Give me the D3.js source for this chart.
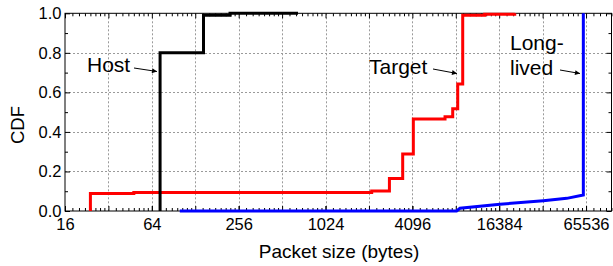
<!DOCTYPE html>
<html>
<head>
<meta charset="utf-8">
<script src="https://cdn.jsdelivr.net/npm/d3@7"></script>
<style>
  body { margin: 0; background: #fff; }
  text { font-family: "Liberation Sans", Arial, sans-serif; }
</style>
</head>
<body>
<svg id="chart" width="613" height="266"></svg>
<script>
// step CDFs (packet size in bytes, cumulative fraction)
var hostSize = [73, 73, 146, 223, 660];
var hostCdf = [0, 0.8, 0.99, 1.0, 1.0];

var targetSize = [24, 24, 48, 2140, 2840, 3510, 4160, 6900, 7800, 8450, 9150, 13000, 21000];
var targetCdf = [0, 0.088, 0.094, 0.101, 0.165, 0.288, 0.465, 0.477, 0.517, 0.642, 0.99, 0.995, 1.0];

var longSize = [100, 8300, 8760, 16590, 33130, 48150, 62770, 62770];
var longCdf = [0, 0, 0.014, 0.034, 0.052, 0.064, 0.081, 1.0];

var xLabelTicks = [16, 64, 256, 1024, 4096, 16384, 65536];
var xGridTicks = [32, 64, 128, 256, 512, 1024, 2048, 4096, 8192, 16384, 32768, 65536];
var yTicks = [0, 0.2, 0.4, 0.6, 0.8, 1.0];

// plot box (pixels)
var pL = 65, pR = 611.5, pT = 13.3, pB = 211;

var svg = d3.select("#chart");

var x = d3.scaleLog().base(2).domain([16, 98400]).range([pL, pR]);
var y = d3.scaleLinear().domain([0, 1]).range([pB, pT]);

// minor ticks: 7 per octave
var majorX = [];
var minorX = [];
for (var p = 4; p <= 16; p++) {
  var b = Math.pow(2, p);
  majorX.push(b);
  for (var k = 1; k < 8; k++) {
    var v = b * (1 + k / 8);
    if (v < 98400) minorX.push(v);
  }
}
var minorY = [0.1, 0.3, 0.5, 0.7, 0.9];

// grid
var grid = svg.append("g").attr("stroke", "#9a9a9a").attr("stroke-width", 1)
  .attr("stroke-dasharray", "2,2");
grid.selectAll(".gx").data(xGridTicks).enter().append("line")
  .attr("x1", d => Math.round(x(d)) + 0.5).attr("x2", d => Math.round(x(d)) + 0.5)
  .attr("y1", pT).attr("y2", pB);
grid.selectAll(".gy").data([0.2, 0.4, 0.6, 0.8]).enter().append("line")
  .attr("y1", d => Math.round(y(d)) + 0.5).attr("y2", d => Math.round(y(d)) + 0.5)
  .attr("x1", pL).attr("x2", pR);

// axes with inward ticks on all four sides
function axisSet(gen, trans, vals, size, labels) {
  var g = svg.append("g").attr("transform", trans)
    .call(gen.tickValues(vals).tickSize(size).tickPadding(labels ? 7 : 0)
      .tickFormat(labels ? labels : ""));
  g.select(".domain").remove();
  g.selectAll("line").attr("stroke", "#000");
  g.selectAll("text").attr("font-size", "16.5px").attr("fill", "#000")
    .style("font-family", "'Liberation Sans', Arial, sans-serif");
  return g;
}
axisSet(d3.axisBottom(x), "translate(0," + pB + ")", majorX, -5, null);
axisSet(d3.axisBottom(x), "translate(0," + pB + ")", minorX, -3, null);
axisSet(d3.axisBottom(x), "translate(0," + pB + ")", xLabelTicks, -5, d3.format("d"));
axisSet(d3.axisTop(x), "translate(0," + pT + ")", majorX, -5, null);
axisSet(d3.axisTop(x), "translate(0," + pT + ")", minorX, -3, null);
axisSet(d3.axisLeft(y), "translate(" + pL + ",0)", minorY, -3, null);
axisSet(d3.axisLeft(y), "translate(" + pL + ",0)", yTicks, -5, d3.format(".1f"))
  .selectAll("text").attr("x", -3.5);
axisSet(d3.axisRight(y), "translate(" + pR + ",0)", minorY, -3, null);
axisSet(d3.axisRight(y), "translate(" + pR + ",0)", yTicks, -5, null);

svg.append("rect").attr("x", pL).attr("y", pT)
  .attr("width", pR - pL).attr("height", pB - pT)
  .attr("fill", "none").attr("stroke", "#000").attr("stroke-width", 1);

// series
var stepLine = d3.line().x(d => x(d[0])).y(d => y(d[1])).curve(d3.curveStepAfter);
var plainLine = d3.line().x(d => x(d[0])).y(d => y(d[1]));

svg.append("path").datum(d3.zip(targetSize, targetCdf))
  .attr("d", stepLine).attr("fill", "none").attr("stroke", "#ff0000").attr("stroke-width", 3);
svg.append("path").datum(d3.zip(longSize, longCdf))
  .attr("d", plainLine).attr("fill", "none").attr("stroke", "#0000ff").attr("stroke-width", 3);
svg.append("path").datum(d3.zip(hostSize, hostCdf))
  .attr("d", stepLine).attr("fill", "none").attr("stroke", "#000").attr("stroke-width", 3);

// axis titles
svg.append("text").attr("x", 339).attr("y", 258).attr("text-anchor", "middle")
  .attr("font-size", "19px").text("Packet size (bytes)");
svg.append("text").attr("transform", "translate(24,125) rotate(-90)")
  .attr("text-anchor", "middle").attr("font-size", "18.5px").text("CDF");

// annotations
svg.append("defs").append("marker").attr("id", "arr")
  .attr("viewBox", "0 0 10 10").attr("refX", 10).attr("refY", 5)
  .attr("markerWidth", 7).attr("markerHeight", 5).attr("orient", "auto")
  .attr("markerUnits", "userSpaceOnUse")
  .append("path").attr("d", "M0,0 L10,5 L0,10 Z").attr("fill", "#000");

var notes = [
  { lines: ["Host"], tx: 87, ty: 72, a: [134, 68, 157, 71.5] },
  { lines: ["Target"], tx: 369, ty: 74, a: [433, 69, 457, 73.5] },
  { lines: ["Long-", "lived"], tx: 510, ty: 49.5, a: [560, 70, 580, 73.5] }
];
notes.forEach(function (n) {
  var t = svg.append("text").attr("x", n.tx).attr("y", n.ty).attr("font-size", "21px");
  n.lines.forEach(function (s, i) {
    t.append("tspan").attr("x", n.tx).attr("dy", i ? 25.5 : 0).text(s);
  });
  svg.append("line").attr("x1", n.a[0]).attr("y1", n.a[1]).attr("x2", n.a[2]).attr("y2", n.a[3])
    .attr("stroke", "#000").attr("stroke-width", 1).attr("marker-end", "url(#arr)");
});
</script>
</body>
</html>
